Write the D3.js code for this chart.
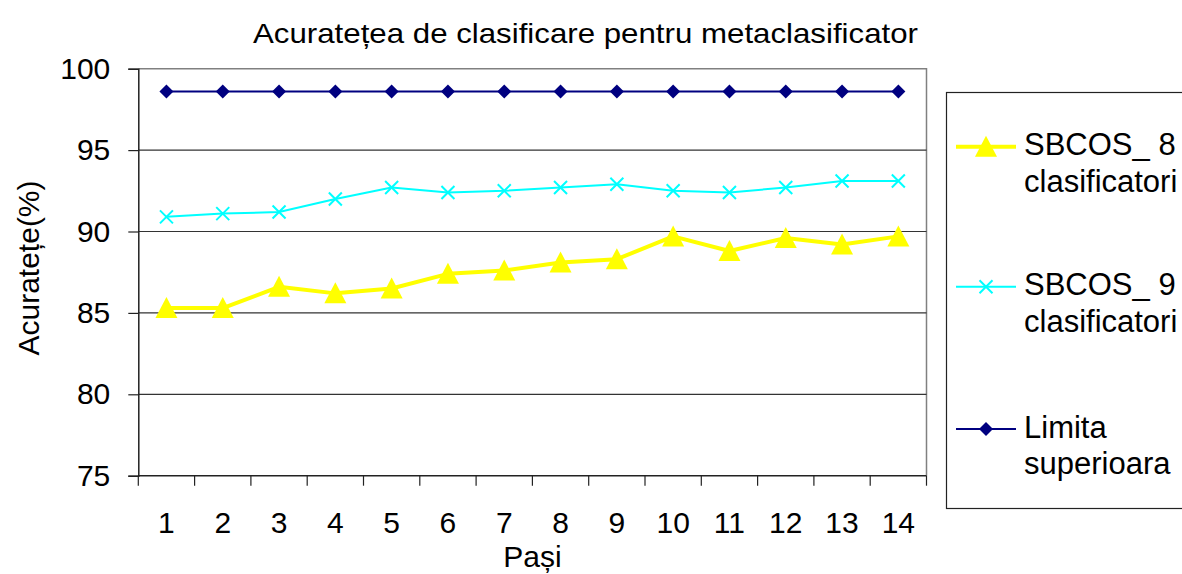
<!DOCTYPE html>
<html>
<head>
<meta charset="utf-8">
<script src="https://cdn.jsdelivr.net/npm/d3@7"></script>
<style>
  html, body { margin: 0; padding: 0; background: #fff; }
  svg { display: block; }
  text { font-family: "Liberation Sans", Arial, sans-serif; fill: #000; }
</style>
</head>
<body>
<svg id="chart" width="1182" height="574"></svg>
<script>
// Classification accuracy per step
const steps = [1, 2, 3, 4, 5, 6, 7, 8, 9, 10, 11, 12, 13, 14];
const sbcos8 = [85.3, 85.3, 86.6, 86.2, 86.5, 87.4, 87.6, 88.1, 88.3, 89.7, 88.8, 89.6, 89.2, 89.7];
const sbcos9 = [90.9, 91.1, 91.2, 92.0, 92.7, 92.4, 92.5, 92.7, 92.9, 92.5, 92.4, 92.7, 93.1, 93.1];
const limita = [98.6, 98.6, 98.6, 98.6, 98.6, 98.6, 98.6, 98.6, 98.6, 98.6, 98.6, 98.6, 98.6, 98.6];
const yTicks = [75, 80, 85, 90, 95, 100];

const titleText = "Acuratețea de clasificare pentru metaclasificator";
const xTitle = "Pași";
const yTitle = "Acuratețe(%)";

const series = [
  { name: ["SBCOS_ 8", "clasificatori"], values: sbcos8, color: "#FFFF00", width: 4, marker: "triangle" },
  { name: ["SBCOS_ 9", "clasificatori"], values: sbcos9, color: "#00FFFF", width: 2, marker: "cross" },
  { name: ["Limita", "superioara"], values: limita, color: "#000080", width: 2, marker: "diamond" }
];

const svg = d3.select("#chart");
const plot = { left: 138.3, right: 926.5, top: 68.7, bottom: 475.7 };

const x = d3.scaleBand().domain(steps).range([plot.left, plot.right]);
const y = d3.scaleLinear().domain([75, 100]).range([plot.bottom, plot.top]);
const cx = d => x(d) + x.bandwidth() / 2;

// Plot area frame (top and right sides grey)
svg.append("path")
  .attr("d", `M${plot.left},${plot.top}H${plot.right}V${plot.bottom}`)
  .attr("fill", "none").attr("stroke", "#808080").attr("stroke-width", 1.5);

// Horizontal gridlines
svg.append("g").selectAll("line")
  .data(yTicks.filter(t => t > 75 && t < 100))
  .join("line")
  .attr("x1", plot.left).attr("x2", plot.right)
  .attr("y1", d => y(d)).attr("y2", d => y(d))
  .attr("stroke", "#333").attr("stroke-width", 1.2);

// Y axis
const yAxis = d3.axisLeft(y).tickValues(yTicks).tickSize(10).tickPadding(18);
const gy = svg.append("g").attr("transform", `translate(${plot.left},0)`).call(yAxis);
gy.select(".domain").attr("stroke", "#222").attr("stroke-width", 1.5);
gy.selectAll(".tick line").attr("stroke", "#222").attr("stroke-width", 1.2);
gy.selectAll(".tick text").attr("font-size", 30).attr("font-family", "Liberation Sans, Arial, sans-serif").attr("fill", "#000");

// X axis: tick marks sit on category boundaries, labels at category centres
const gx = svg.append("g").attr("transform", `translate(0,${plot.bottom})`);
gx.append("line").attr("x1", plot.left).attr("x2", plot.right)
  .attr("stroke", "#222").attr("stroke-width", 1.5);
const bounds = steps.map(s => x(s)).concat([plot.right]);
gx.selectAll("line.b").data(bounds).join("line").attr("class", "b")
  .attr("x1", d => d).attr("x2", d => d).attr("y1", 0).attr("y2", 10)
  .attr("stroke", "#222").attr("stroke-width", 1.2);
gx.selectAll("text").data(steps).join("text")
  .attr("x", d => cx(d)).attr("y", 57)
  .attr("text-anchor", "middle").attr("font-size", 30)
  .text(d => d);

// Axis titles
svg.append("text").attr("x", (plot.left + plot.right) / 2).attr("y", 567)
  .attr("text-anchor", "middle").attr("font-size", 30).text(xTitle);
svg.append("text").attr("transform", `translate(39,268) rotate(-90)`)
  .attr("text-anchor", "middle").attr("font-size", 30).text(yTitle);

// Chart title
svg.append("text").attr("x", 585.5).attr("y", 43)
  .attr("text-anchor", "middle").attr("font-size", 28)
  .attr("textLength", 665).attr("lengthAdjust", "spacingAndGlyphs")
  .text(titleText);

// Marker shapes
function markerPath(type) {
  if (type === "triangle") return "M0,-11L11,10L-11,10Z";
  if (type === "diamond") return "M0,-7L7,0L0,7L-7,0Z";
  return "M-6.5,-6.5L6.5,6.5M6.5,-6.5L-6.5,6.5";
}
function drawMarker(g, type, color) {
  const p = g.append("path").attr("d", markerPath(type));
  if (type === "cross") p.attr("fill", "none").attr("stroke", color).attr("stroke-width", 2);
  else p.attr("fill", color).attr("stroke", "none");
}

// Series lines and markers
const line = d3.line().x((d, i) => cx(steps[i])).y(d => y(d));
series.slice().reverse().forEach(s => {
  svg.append("path").datum(s.values).attr("d", line)
    .attr("fill", "none").attr("stroke", s.color).attr("stroke-width", s.width)
    .attr("stroke-linejoin", "round");
  s.values.forEach((v, i) => {
    const g = svg.append("g").attr("transform", `translate(${cx(steps[i])},${y(v)})`);
    drawMarker(g, s.marker, s.color);
  });
});

// Legend
const legend = svg.append("g");
legend.append("rect").attr("x", 946.5).attr("y", 92.5).attr("width", 300).attr("height", 416)
  .attr("fill", "#fff").attr("stroke", "#222").attr("stroke-width", 1.2);
const legendY = [146.7, 286.7, 429];
series.forEach((s, i) => {
  const g = legend.append("g").attr("transform", `translate(0,${legendY[i]})`);
  g.append("line").attr("x1", 956).attr("x2", 1016)
    .attr("stroke", s.color).attr("stroke-width", s.width);
  const m = g.append("g").attr("transform", "translate(986,0)");
  drawMarker(m, s.marker, s.color);
  const t = g.append("text").attr("x", 1024).attr("y", 8.5).attr("font-size", 31);
  t.append("tspan").attr("x", 1024).attr("dy", 0).text(s.name[0]);
  t.append("tspan").attr("x", 1024).attr("dy", 36.5).text(s.name[1]);
});
</script>
</body>
</html>
